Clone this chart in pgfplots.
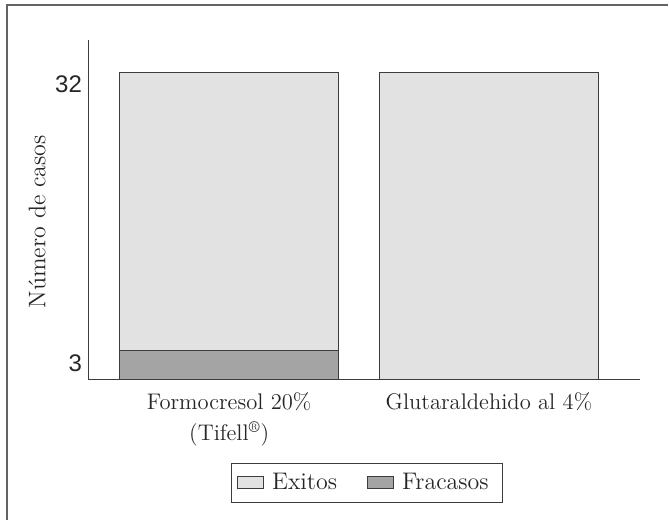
\documentclass[border=0pt]{standalone}
\usepackage{fontspec}
\usepackage{pgfplots}
\pgfplotsset{compat=1.18}
\newfontfamily\tickfont{Liberation Sans}
\definecolor{exitos}{HTML}{E2E2E2}
\definecolor{fracasos}{HTML}{A4A4A4}
\definecolor{edge}{HTML}{3C3C3C}
\begin{document}
\begin{tikzpicture}
\begin{scope}[x=0.5pt,y=-0.5pt]
\path (0,0) rectangle (669,520);
\draw[edge!80, line width=0.6pt] (7,520) -- (7,5) -- (669,5);
\end{scope}
\begin{axis}[
  at={(44.5pt,-190pt)}, anchor=south west,
  scale only axis, width=276pt, height=170pt,
  xmin=-0.54, xmax=1.583, ymin=0, ymax=35.4,
  axis x line=bottom, axis y line=left,
  axis line style={-, edge, line width=0.55pt},
  major tick length=0,
  ytick={3,32}, yticklabels={3,32},
  yticklabel style={font=\tickfont\fontsize{12}{14}\selectfont, yshift=-6pt, color=black!85},
  xtick={0,1},
  xticklabels={{Formocresol 20\%\\[2pt](Tifell\textsuperscript{\textregistered})},{Glutaraldehido al 4\%}},
  xticklabel style={align=center, font=\fontsize{11.3}{13.5}\selectfont, color=black!85, yshift=-3pt},
  ylabel={Número de casos},
  ylabel style={at={(axis description cs:-0.094,0.465)}, anchor=center, font=\fontsize{12}{14}\selectfont, color=black!85},
  ybar stacked, bar width=0.842,
  reverse legend,
  legend columns=2,
  legend style={at={(0.504,-0.244)}, anchor=north, draw=edge, font=\fontsize{12}{14}\selectfont, text=black!85,
    /tikz/every even column/.append style={column sep=11pt}, inner xsep=3pt, inner ysep=3pt,
    nodes={inner xsep=4pt}},
  legend image code/.code={\draw[#1] (0pt,-3pt) rectangle (13pt,3pt);},
]
\addplot[fill=fracasos, draw=edge, line width=0.5pt] coordinates {(0,3) (1,0)};
\addlegendentry{Fracasos}
\addplot[fill=exitos, draw=edge, line width=0.5pt] coordinates {(0,29) (1,32)};
\addlegendentry{Exitos}
\end{axis}
\end{tikzpicture}
\end{document}
